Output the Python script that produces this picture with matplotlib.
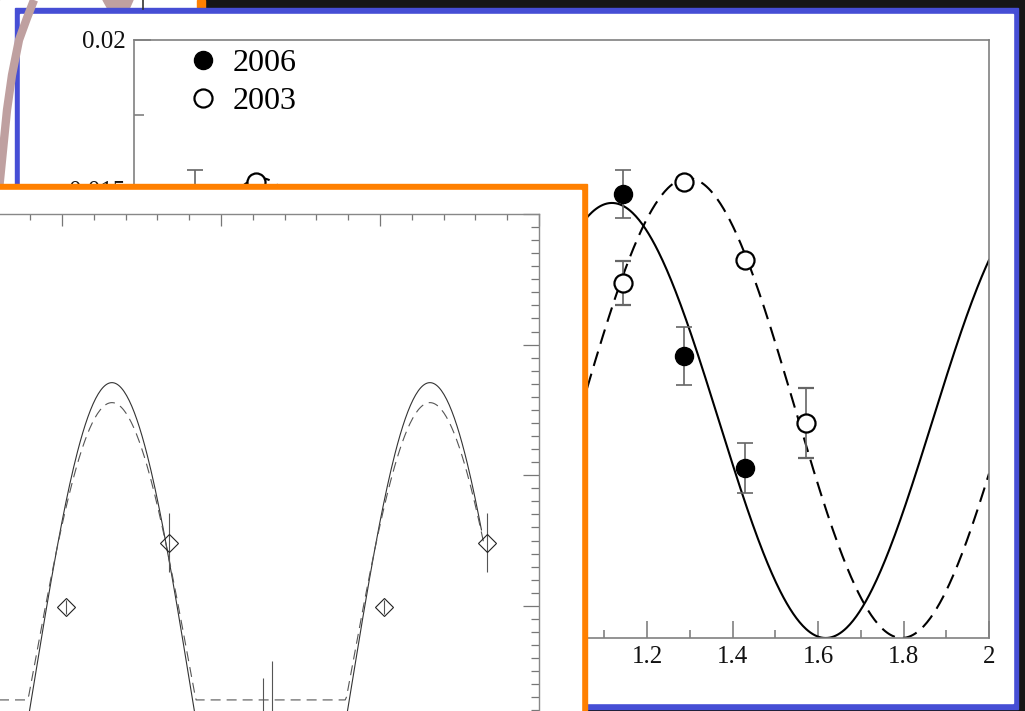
import numpy as np
import matplotlib
matplotlib.use("Agg")
import matplotlib.pyplot as plt
from matplotlib.patches import Rectangle, Polygon
from matplotlib.lines import Line2D
from matplotlib.ticker import MultipleLocator, FuncFormatter

# ---------------- data: main chart (phase-folded, shown twice) ----------------
phase_2006 = [0.143, 0.286, 0.429]
flux_2006 = [0.01485, 0.00943, 0.00569]
err_2006 = [0.00080, 0.00097, 0.00083]

phase_2003 = [0.143, 0.286, 0.429, 0.571]
flux_2003 = [0.01187, 0.01525, 0.01264, 0.00719]
err_2003 = [0.00073, 0.00015, 0.00015, 0.00118]

# sinusoid fits (peak phase, peak value, minimum value)
fit_2006 = dict(peak_phase=0.118, peak=0.01455, low=0.0)
fit_2003 = dict(peak_phase=0.296, peak=0.01538, low=0.0)

xtick_vals = [0, 0.2, 0.4, 0.6, 0.8, 1.0, 1.2, 1.4, 1.6, 1.8, 2.0]
legend_labels = ["2006", "2003"]

# ---------------- data: inset (orange-framed) chart ----------------
inset_phase = [0.512, 0.836, 0.132, 0.160]
inset_val = [0.992, 1.483, 0.12, 0.10]
inset_err = [0.054, 0.226, 0.33, 0.48]
inset_model_solid = dict(peak_phase=0.657, peak=2.709, amp=2.375, end=1.819)
inset_model_dashed = dict(peak_phase=0.657, peak=2.556, amp=2.092, floor=0.28, end=1.827)

W, H = 1025, 711
fig = plt.figure(figsize=(W / 100, H / 100), dpi=100)
fig.patch.set_facecolor("#161616")


def rect(x0, y0, x1, y1):
    return [x0 / W, 1 - y1 / H, (x1 - x0) / W, (y1 - y0) / H]


# ---------------- background decorations ----------------
bg = fig.add_axes([0, 0, 1, 1], zorder=0)
bg.set_xlim(0, W)
bg.set_ylim(H, 0)
bg.axis("off")
bg.add_patch(Rectangle((0, 0), W, H, color="#161616"))
bg.add_patch(Rectangle((0, 0), 197, 190, color="white"))
bg.add_patch(Rectangle((197, 0), 8, 9, color="#ff8000"))
bg.plot([143, 143], [0, 9], color="#333333", lw=1.2)
bg.plot([34, 27, 19, 12, 7, 3, -1], [0, 18, 40, 75, 110, 150, 190], color="#bfa0a0", lw=6.0,
        solid_capstyle="butt")
bg.add_patch(Polygon([(103, 0), (133, 0), (129, 9), (108, 9)], closed=True, color="#bfa0a0"))
bg.add_patch(Rectangle((15, 8), 1003, 701, color="#464ed5"))
bg.add_patch(Rectangle((20, 14), 993, 689, color="white"))

# ---------------- main chart ----------------
serif = ["Liberation Serif", "DejaVu Serif"]
ax = fig.add_axes(rect(134, 40, 989, 638), zorder=1)
ax.set_xlim(0, 2)
ax.set_ylim(0, 0.02)
ax.set_facecolor("white")

xx = np.linspace(0, 2, 800)
for fit, ls in [(fit_2006, "-"), (fit_2003, (0, (7.2, 3.9)))]:
    mid = (fit["peak"] + fit["low"]) / 2
    amp = (fit["peak"] - fit["low"]) / 2
    ax.plot(xx, mid + amp * np.cos(2 * np.pi * (xx - fit["peak_phase"])), color="black",
            lw=1.5, linestyle=ls, zorder=2)

for shift in (0, 1):
    ax.errorbar(np.array(phase_2006) + shift, flux_2006, yerr=err_2006, fmt="o", ms=13,
                mfc="black", mec="black", ecolor="#666666", elinewidth=1.2, capsize=6,
                capthick=1.2, zorder=3)
    ax.errorbar(np.array(phase_2003) + shift, flux_2003, yerr=err_2003, fmt="o", ms=13,
                mfc="white", mec="black", mew=1.6, ecolor="#666666", elinewidth=1.2,
                capsize=6, capthick=1.2, zorder=3)

for s in ax.spines.values():
    s.set_color("#808080")
    s.set_linewidth(1.2)
ax.set_xticks(xtick_vals)
ax.xaxis.set_minor_locator(MultipleLocator(0.1))
ax.yaxis.set_major_locator(MultipleLocator(0.005))
ax.yaxis.set_minor_locator(MultipleLocator(0.0025))
fmt = FuncFormatter(lambda v, p: f"{v:g}")
ax.xaxis.set_major_formatter(fmt)
ax.yaxis.set_major_formatter(fmt)
ax.tick_params(which="both", direction="in", color="#808080", width=1.2, top=False, right=False,
               labelsize=18, labelcolor="#111111", labelfontfamily="Liberation Serif")
ax.tick_params(axis="x", which="major", length=12, pad=6)
ax.tick_params(axis="x", which="minor", length=6)
ax.tick_params(axis="y", which="major", length=12, pad=6)
ax.tick_params(axis="y", which="minor", length=7.2)

handles = [Line2D([], [], marker="o", ms=13, mfc="black", mec="black", ls="none"),
           Line2D([], [], marker="o", ms=13, mfc="white", mec="black", mew=1.6, ls="none")]
ax.legend(handles, legend_labels, loc="upper left", bbox_to_anchor=(0.0625, 0.985),
          frameon=False, borderpad=0, borderaxespad=0, handlelength=1.0,
          handletextpad=0.43, labelspacing=0.26, prop=dict(family=serif, size=23))

# ---------------- orange overlay panel ----------------
ov = fig.add_axes([0, 0, 1, 1], zorder=2)
ov.set_xlim(0, W)
ov.set_ylim(H, 0)
ov.axis("off")
ov.patch.set_alpha(0)
ov.add_patch(Rectangle((-10, 184), 597, 540, color="#ff8000"))
ov.add_patch(Rectangle((-10, 190), 591, 540, color="white"))

# ---------------- inset chart ----------------
ax2 = fig.add_axes(rect(-33.4, 214, 539, 736.5), zorder=3)
ax2.set_xlim(0.2, 2.0)
ax2.set_ylim(0, 4)
ax2.set_facecolor("white")

m = inset_model_solid
xs = np.linspace(0.2, m["end"], 400)
c = m["peak"] - m["amp"]
ax2.plot(xs, c + m["amp"] * np.cos(2 * np.pi * (xs - m["peak_phase"])), color="#333333", lw=0.8)
m = inset_model_dashed
xd = np.linspace(0.2, m["end"], 400)
c = m["peak"] - m["amp"]
yd = np.maximum(m["floor"], c + m["amp"] * np.cos(2 * np.pi * (xd - m["peak_phase"])))
ax2.plot(xd, yd, color="#555555", lw=0.8, linestyle=(0, (9, 5.4)))

for shift in (0, 1):
    ax2.errorbar(np.array(inset_phase) + shift, inset_val, yerr=inset_err, fmt="D", ms=9,
                 mfc="none", mec="#222222", mew=0.8, ecolor="#555555", elinewidth=0.8,
                 capsize=0)

for s in ax2.spines.values():
    s.set_color("#888888")
    s.set_linewidth(1.0)
ax2.xaxis.set_major_locator(MultipleLocator(0.5))
ax2.xaxis.set_minor_locator(MultipleLocator(0.1))
ax2.yaxis.set_major_locator(MultipleLocator(1.0))
ax2.yaxis.set_minor_locator(MultipleLocator(0.1))
ax2.tick_params(which="both", direction="in", color="#777777", width=0.9, top=True, right=True,
                labelbottom=False, labelleft=False)
ax2.tick_params(axis="x", which="major", length=8.6)
ax2.tick_params(axis="x", which="minor", length=4.3)
ax2.tick_params(axis="y", which="major", length=11.5)
ax2.tick_params(axis="y", which="minor", length=5.8)

fig.savefig("out.png", dpi=100, facecolor=fig.get_facecolor())
